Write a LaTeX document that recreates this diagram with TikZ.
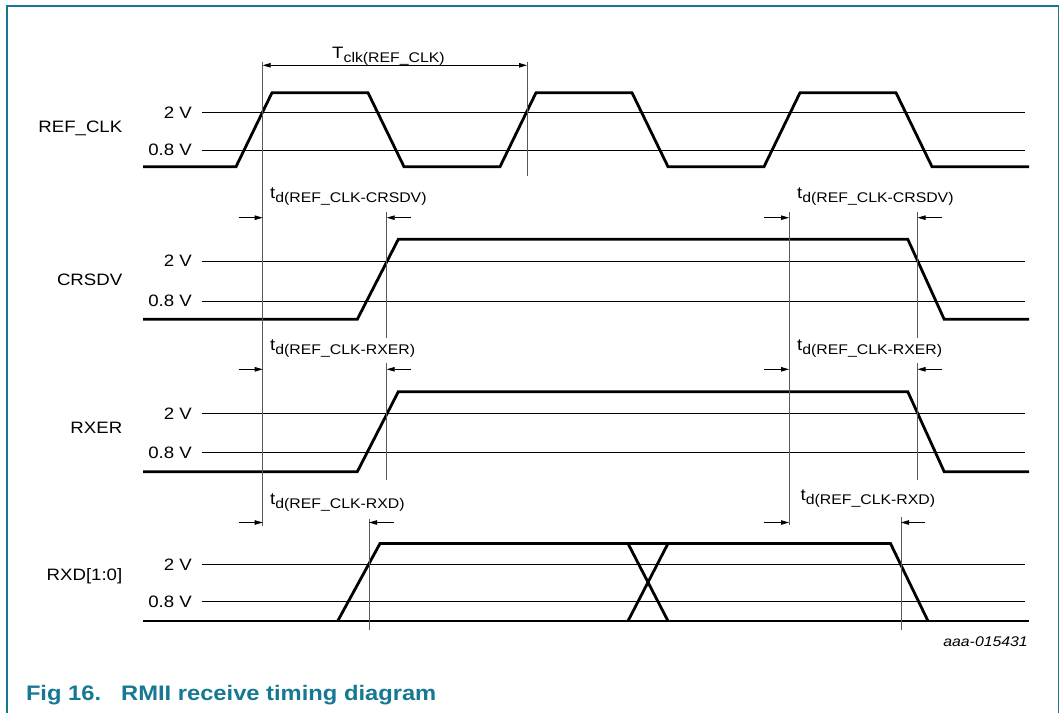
\documentclass[tikz,border=0pt]{standalone}
\usepackage{fontspec}
\setmainfont{Liberation Sans}[FakeStretch=1.13]
\usetikzlibrary{arrows.meta}
\definecolor{nxpteal}{RGB}{22,120,146}
\newcommand\sublab[2]{#1\raisebox{-4.5pt}{\fontsize{14}{14}\selectfont #2}}
\begin{document}
\begin{tikzpicture}[x=1pt,y=-1pt,
  sig/.style={line width=2.8pt,black},
  thr/.style={line width=0.9pt,black},
  vl/.style={line width=1pt,black!65},
  arr/.style={line width=0.8pt,-{Triangle[length=8pt,width=4.5pt]}},
  lab/.style={font=\fontsize{16.5}{19}\selectfont,inner sep=0pt},
  tlab/.style={font=\fontsize{16.5}{19}\selectfont,inner sep=0pt,anchor=base west},
  frame/.style={line width=1.4pt,nxpteal}]
\useasboundingbox (0,0) rectangle (1063,713);
% frame
\draw[frame] (6.9,713) -- (6.9,5.9) -- (1058.4,5.9) -- (1058.4,713);

% signal labels
\node[lab,anchor=east] (lref) at (122.5,128.3) {REF\_CLK};
\node[lab,anchor=east] (lcrs) at (122.5,280) {CRSDV};
\node[lab,anchor=east] (lrxe) at (122.5,428.3) {RXER};
\node[lab,anchor=east] (lrxd) at (122.5,576.7) {RXD[1:0]};

% voltage labels and threshold lines
\foreach \n/\hy/\ly in {a/112.7/150, b/261/301, c/413.3/452.7, d/564.3/601.7}{
  \node[lab,anchor=east] (h\n) at (192,\hy) {2 V};
  \node[lab,anchor=east] (l\n) at (192,\ly) {0.8 V};
  \draw[thr] (202,\hy) -- (1024.5,\hy);
  \draw[thr] (202,\ly) -- (1024.5,\ly);
}

% REF_CLK
\draw[sig] (143,166.7) -- (236,166.7) -- (272,92.7) -- (368,92.7) -- (404,166.7) -- (500,166.7)
  -- (536,92.7) -- (632,92.7) -- (668,166.7) -- (764,166.7) -- (800,92.7) -- (896,92.7)
  -- (932,166.7) -- (1029,166.7);
% CRSDV
\draw[sig] (143,319.3) -- (357.3,319.3) -- (398.3,239.3) -- (907.8,239.3) -- (944.2,319.3) -- (1029,319.3);
% RXER
\draw[sig] (143,471.7) -- (357.3,471.7) -- (398.3,391.7) -- (907.8,391.7) -- (944.2,471.7) -- (1029,471.7);
% RXD
\draw[sig] (143,621) -- (1029,621);
\draw[sig] (337.7,621) -- (380,543.5) -- (890.5,543.5) -- (928,621);
\draw[sig] (628,543.5) -- (668,621);
\draw[sig] (628,621) -- (668,543.5);

% vertical reference lines
\coordinate (v1t) at (262.7,61.7);  \coordinate (v1b) at (262.7,525.7);
\coordinate (v2t) at (527,61.7);    \coordinate (v2b) at (527,176);
\coordinate (v3t) at (789,211.7);   \coordinate (v3b) at (789,525);
\draw[vl] (v1t) -- (v1b);
\draw[vl] (v2t) -- (v2b);
\draw[vl] (v3t) -- (v3b);
\draw[vl] (386.7,211.7) -- (386.7,338.3);
\draw[vl] (917.5,211.7) -- (917.5,337.5);
\draw[vl] (386.7,363.3) -- (386.7,480);
\draw[vl] (917.5,363.3) -- (917.5,480);
\draw[vl] (369,519.3) -- (369,630);
\draw[vl] (901,517.3) -- (901,630);

% Tclk dimension
\coordinate (ta) at (262.7,65.3);
\coordinate (tb) at (527,65.3);
\draw[line width=0.8pt,{Triangle[length=8pt,width=4.5pt]}-{Triangle[length=8pt,width=4.5pt]}] (ta) -- (tb);
\node[tlab] (tclk) at (332,58.3) {\sublab{T}{clk(REF\_CLK)}};

% delay arrows
\foreach \y/\ra/\rb/\sa/\sb in {217.7/410.7/386.7/942/917.5, 369.3/410.7/386.7/942/917.5, 522.5/394/369/925/901}{
  \draw[arr] (238.6,\y) -- (262.7,\y);
  \draw[arr] (\ra,\y) -- (\rb,\y);
  \draw[arr] (764,\y) -- (789,\y);
  \draw[arr] (\sa,\y) -- (\sb,\y);
}

% delay labels
\node[tlab] (td1) at (270,198.3) {\sublab{t}{d(REF\_CLK-CRSDV)}};
\node[tlab] (td2) at (797,198.3) {\sublab{t}{d(REF\_CLK-CRSDV)}};
\node[tlab] (td3) at (270,350.3) {\sublab{t}{d(REF\_CLK-RXER)}};
\node[tlab] (td4) at (797,350.3) {\sublab{t}{d(REF\_CLK-RXER)}};
\node[tlab] (td5) at (270,504) {\sublab{t}{d(REF\_CLK-RXD)}};
\node[tlab] (td6) at (800.5,500) {\sublab{t}{d(REF\_CLK-RXD)}};

% id and caption
\node[inner sep=0pt,anchor=base east,font=\fontsize{14}{16}\selectfont\itshape] (id) at (1028,646.7) {aaa-015431};
\node[inner sep=0pt,anchor=base west,font=\fontsize{21}{24}\selectfont\bfseries,text=nxpteal] (cap) at (25.8,700) {Fig 16.\hspace{20pt}RMII receive timing diagram};
\end{tikzpicture}
\end{document}
